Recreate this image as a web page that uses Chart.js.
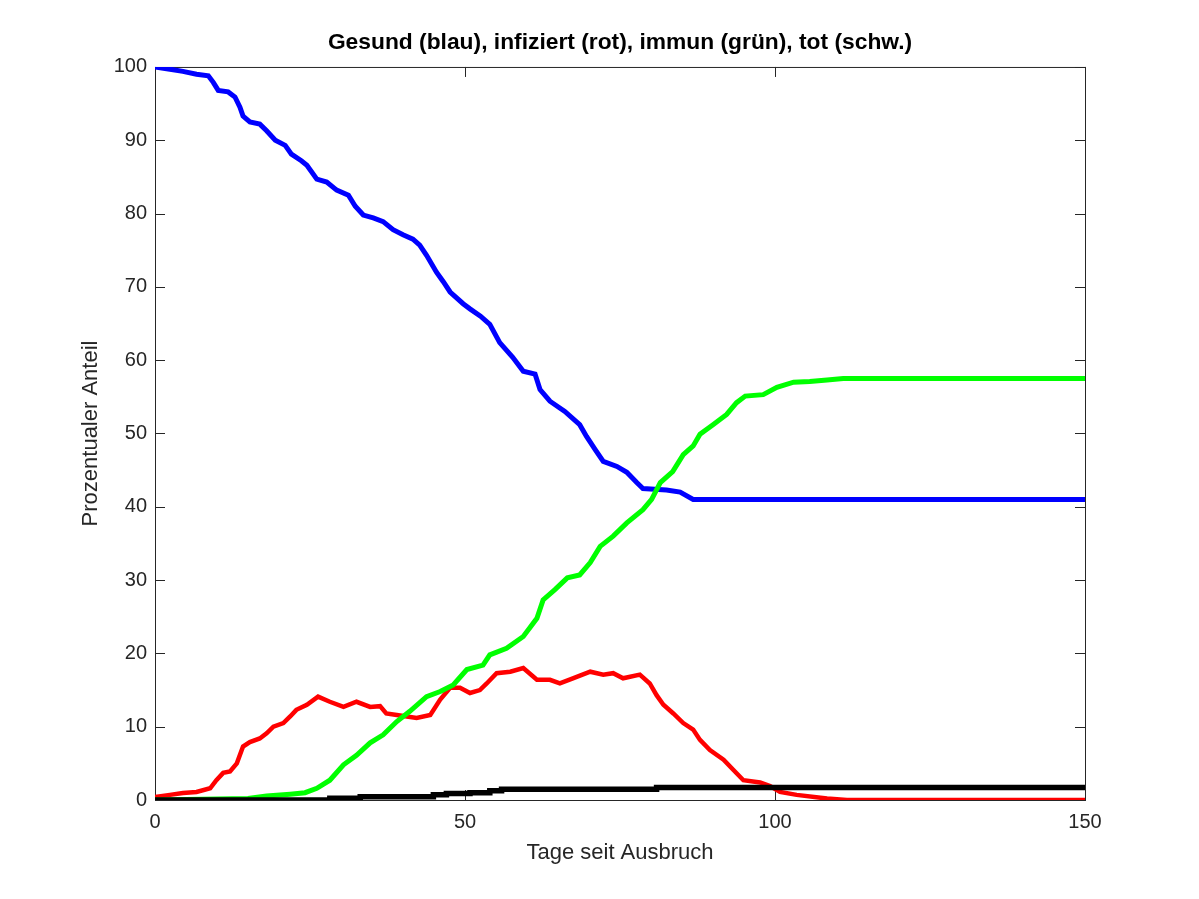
<!DOCTYPE html>
<html>
<head>
<meta charset="utf-8">
<script src="https://cdn.jsdelivr.net/npm/chart.js@4/dist/chart.umd.min.js"></script>
<style>
  html, body { margin: 0; padding: 0; background: #fff; }
  canvas { display: block; }
</style>
</head>
<body>
<canvas id="chart" width="1199" height="899"></canvas>
<script>
// Werte (Tage seit Ausbruch / Prozent)
const gesundTage = [0, 2.4, 4.5, 6.7, 8.6, 9.4, 10.2, 11.8, 12.9, 13.7, 14.2, 15.3, 16.9, 18, 19.4, 21, 22, 23.6, 24.5, 26.1, 27.7, 29.3, 31.2, 32.3, 33.6, 35.2, 36.8, 38.4, 40, 41.6, 42.7, 43.8, 45.4, 46.5, 47.6, 49.7, 50.8, 52.5, 54, 55.6, 57.7, 59.4, 61.3, 62.1, 63.7, 66.1, 68.5, 69.6, 71, 72.3, 74.5, 76.1, 77.7, 78.7, 82.5, 84.7, 86.8, 150];
const gesundWerte = [100, 99.7, 99.4, 99.0, 98.8, 97.9, 96.8, 96.6, 95.9, 94.5, 93.3, 92.5, 92.2, 91.3, 90.0, 89.3, 88.1, 87.2, 86.6, 84.7, 84.3, 83.2, 82.5, 81.0, 79.8, 79.4, 78.9, 77.8, 77.1, 76.5, 75.7, 74.3, 72.0, 70.7, 69.3, 67.7, 67.0, 66.0, 64.9, 62.4, 60.4, 58.5, 58.1, 56.0, 54.4, 53.0, 51.2, 49.6, 47.8, 46.2, 45.5, 44.7, 43.3, 42.5, 42.3, 42.0, 41.0, 41.0];

const infiziertTage = [0, 2.4, 4.5, 6.7, 8.9, 9.9, 11, 12.1, 13.2, 14.2, 15.3, 16.9, 18, 19.1, 20.7, 21.8, 22.8, 24.5, 26.3, 28.2, 30.4, 32.5, 34.7, 36.3, 37.3, 39, 40.6, 42.2, 44.4, 46, 47.6, 49.2, 50.8, 52.4, 53.5, 55.1, 57.3, 59.4, 61.6, 63.7, 65.3, 67.4, 70.2, 72.3, 73.9, 75.5, 78.2, 79.8, 80.9, 82, 83.6, 85.2, 86.8, 87.9, 89.5, 91.7, 93.3, 94.9, 97.6, 99.2, 100.8, 103.5, 108.4, 111.6, 150];
const infiziertWerte = [0.4, 0.7, 0.95, 1.1, 1.6, 2.7, 3.7, 3.9, 5.0, 7.3, 7.9, 8.4, 9.1, 10.0, 10.5, 11.4, 12.3, 13.0, 14.1, 13.4, 12.7, 13.4, 12.7, 12.8, 11.8, 11.6, 11.4, 11.2, 11.6, 13.7, 15.3, 15.3, 14.6, 15.0, 15.9, 17.3, 17.5, 18.0, 16.4, 16.4, 15.9, 16.6, 17.5, 17.1, 17.3, 16.6, 17.1, 15.9, 14.3, 13.0, 11.8, 10.5, 9.6, 8.2, 6.8, 5.5, 4.1, 2.7, 2.4, 1.9, 1.1, 0.7, 0.2, 0, 0];

const immunTage = [0, 15, 18, 21.8, 24.2, 26.1, 28.2, 30.4, 32.5, 34.7, 36.8, 39, 41.1, 43.8, 46, 48.1, 50.3, 52.9, 54, 56.7, 59.4, 61.6, 62.6, 64.5, 66.5, 68.5, 70.2, 71.8, 73.9, 76.1, 78.7, 80.1, 81.5, 83.5, 85.2, 86.8, 87.9, 90, 92.2, 93.8, 95.2, 98.1, 100.3, 103, 105.6, 108.4, 111, 150];
const immunWerte = [0, 0.2, 0.55, 0.8, 1.0, 1.6, 2.7, 4.8, 6.1, 7.8, 8.9, 10.7, 12.1, 14.1, 14.8, 15.7, 17.8, 18.4, 19.8, 20.7, 22.3, 24.8, 27.3, 28.7, 30.3, 30.7, 32.4, 34.6, 36.0, 37.8, 39.6, 41.0, 43.3, 44.8, 47.1, 48.3, 49.9, 51.2, 52.6, 54.2, 55.1, 55.3, 56.3, 57.0, 57.1, 57.3, 57.5, 57.5];

const totTage = [0, 28.2, 33.1, 44.9, 47.0, 50.8, 54.0, 55.9, 80.9, 150];
const totWerte = [0, 0.25, 0.45, 0.7, 0.9, 1.0, 1.25, 1.45, 1.7, 1.7];

const xTicks = [0, 50, 100, 150];
const yTicks = [0, 10, 20, 30, 40, 50, 60, 70, 80, 90, 100];

const axisColor = "#262626";
const fontFamily = "'Liberation Sans', Arial, Helvetica, sans-serif";

const toPoints = (tage, werte) => tage.map((t, i) => ({ x: t, y: werte[i] }));

// MATLAB-artiger Rahmen mit Ticks nach innen
const boxPlugin = {
  id: "matlabBox",
  beforeDatasetsDraw(chart) {
    const { ctx, chartArea: a, scales } = chart;
    ctx.save();
    ctx.strokeStyle = axisColor;
    ctx.lineWidth = 1;
    ctx.strokeRect(a.left + 0.5, a.top + 0.5, a.right - a.left, a.bottom - a.top);
    ctx.beginPath();
    xTicks.forEach((v) => {
      const px = Math.round(scales.x.getPixelForValue(v)) + 0.5;
      ctx.moveTo(px, a.bottom);
      ctx.lineTo(px, a.bottom - 10);
      ctx.moveTo(px, a.top);
      ctx.lineTo(px, a.top + 10);
    });
    yTicks.forEach((v) => {
      const py = Math.round(scales.y.getPixelForValue(v)) + 0.5;
      ctx.moveTo(a.left, py);
      ctx.lineTo(a.left + 10, py);
      ctx.moveTo(a.right, py);
      ctx.lineTo(a.right - 10, py);
    });
    ctx.stroke();
    ctx.restore();
  },
};

const ctx = document.getElementById("chart").getContext("2d");

new Chart(ctx, {
  type: "line",
  data: {
    datasets: [
      {
        label: "Gesund",
        data: toPoints(gesundTage, gesundWerte),
        borderColor: "#0000ff",
        borderWidth: 5,
        order: 3,
      },
      {
        label: "Infiziert",
        data: toPoints(infiziertTage, infiziertWerte),
        borderColor: "#ff0000",
        borderWidth: 4.5,
        order: 2,
      },
      {
        label: "Immun",
        data: toPoints(immunTage, immunWerte),
        borderColor: "#00ff00",
        borderWidth: 5,
        order: 1,
      },
      {
        label: "Tot",
        data: toPoints(totTage, totWerte),
        borderColor: "#000000",
        borderWidth: 5.5,
        stepped: true,
        order: 0,
      },
    ],
  },
  options: {
    responsive: false,
    animation: false,
    devicePixelRatio: 1,
    elements: {
      point: { radius: 0, hoverRadius: 0 },
      line: { tension: 0, fill: false, borderCapStyle: "butt", borderJoinStyle: "miter" },
    },
    layout: { padding: { left: 0, right: 114, top: 0, bottom: 0 } },
    plugins: {
      legend: { display: false },
      tooltip: { enabled: false },
      title: {
        display: true,
        fullSize: false,
        text: "Gesund (blau), infiziert (rot), immun (grün), tot (schw.)",
        color: "#000000",
        font: { family: fontFamily, size: 22.8, weight: "bold", lineHeight: 1.2 },
        padding: { top: 29.5, bottom: 10.1 },
      },
    },
    scales: {
      x: {
        type: "linear",
        min: 0,
        max: 150,
        afterBuildTicks: (scale) => {
          scale.ticks = xTicks.map((v) => ({ value: v }));
        },
        afterFit: (scale) => {
          scale.height = 99;
        },
        grid: { display: false, drawTicks: false },
        border: { display: false },
        ticks: {
          color: axisColor,
          padding: 10,
          maxRotation: 0,
          font: { family: fontFamily, size: 20, lineHeight: 1.2 },
        },
        title: {
          display: true,
          text: "Tage seit Ausbruch",
          color: axisColor,
          font: { family: fontFamily, size: 22, lineHeight: 1.2 },
          padding: { top: 0, bottom: 33 },
        },
      },
      y: {
        type: "linear",
        min: 0,
        max: 100,
        afterBuildTicks: (scale) => {
          scale.ticks = yTicks.map((v) => ({ value: v }));
        },
        afterFit: (scale) => {
          scale.width = 155;
        },
        grid: { display: false, drawTicks: false },
        border: { display: false },
        ticks: {
          color: axisColor,
          padding: 8,
          font: { family: fontFamily, size: 20, lineHeight: 1.2 },
        },
        title: {
          display: true,
          text: "Prozentualer Anteil",
          color: axisColor,
          font: { family: fontFamily, size: 22, lineHeight: 1.2 },
          padding: { top: 78, bottom: 0 },
        },
      },
    },
  },
  plugins: [boxPlugin],
});
</script>
</body>
</html>
